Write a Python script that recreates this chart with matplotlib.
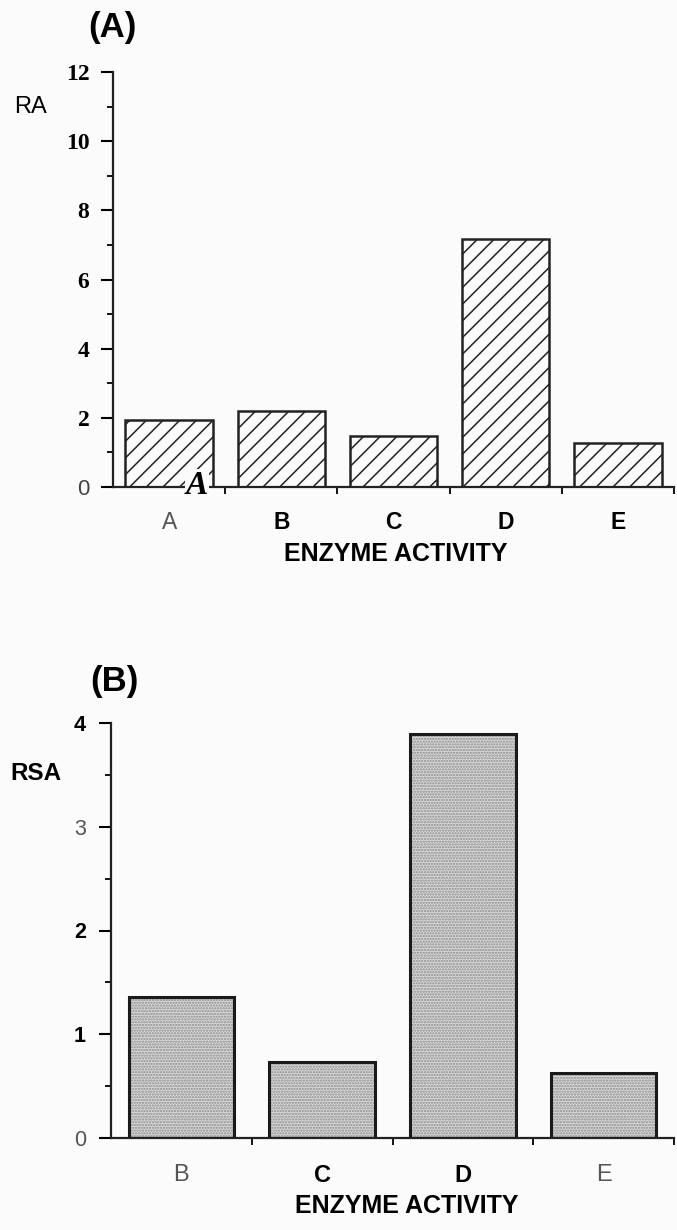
import matplotlib
matplotlib.use("Agg")
import matplotlib.pyplot as plt
import numpy as np

# ---- data ----
cats_a = ["A", "B", "C", "D", "E"]
ra_values = [1.93, 2.20, 1.47, 7.18, 1.26]
cats_b = ["B", "C", "D", "E"]
rsa_values = [1.36, 0.73, 3.89, 0.63]
yticks_a = [0, 2, 4, 6, 8, 10, 12]
yticks_b = [0, 1, 2, 3, 4]

SANS = "Liberation Sans"
SERIF = "Liberation Serif"
BG = "#fbfbfb"
plt.rcParams["hatch.linewidth"] = 1.1

W, H = 677, 1230
fig = plt.figure(figsize=(W / 100, H / 100), dpi=100, facecolor=BG)


def style_axes(ax):
    ax.set_facecolor(BG)
    for s in ("top", "right"):
        ax.spines[s].set_visible(False)
    for s in ("left", "bottom"):
        ax.spines[s].set_linewidth(1.6)
        ax.spines[s].set_color("#222222")


# ---------------- Panel A ----------------
axA = fig.add_axes([113 / W, 1 - 487 / H, (674 - 113) / W, (487 - 72) / H])
style_axes(axA)
xa = np.arange(len(cats_a))
axA.bar(xa, ra_values, width=0.78, facecolor="none", edgecolor="#222222",
        linewidth=1.8, hatch="//", zorder=2)
axA.set_xlim(-0.5, len(cats_a) - 0.5)
axA.set_ylim(0, 12)
axA.set_yticks(yticks_a)
axA.set_yticks(np.arange(1, 12, 2), minor=True)
axA.tick_params(axis="y", which="major", direction="out", length=9, width=1.5, pad=8)
axA.tick_params(axis="y", which="minor", direction="out", length=4.5, width=1.3)
axA.set_xticks(xa, cats_a)
axA.set_xticks(np.arange(0.5, len(cats_a), 1), minor=True)
axA.tick_params(axis="x", which="major", length=0, pad=17)
axA.tick_params(axis="x", which="minor", direction="out", length=5, width=1.3)

for lab in axA.get_yticklabels():
    if lab.get_text() == "0":
        lab.set_fontfamily(SANS)
        lab.set_fontsize(16)
        lab.set_color("#444444")
    else:
        lab.set_fontfamily(SERIF)
        lab.set_fontweight("bold")
        lab.set_fontsize(17)
for lab in axA.get_xticklabels():
    lab.set_fontfamily(SANS)
    lab.set_fontsize(16.5)
    if lab.get_text() == "A":
        lab.set_color("#555555")
    else:
        lab.set_fontweight("bold")

axA.text(0.25, 0.05, "A", family=SERIF, style="italic", weight="bold",
         fontsize=24, ha="center", va="center", zorder=5,
         bbox=dict(facecolor=BG, edgecolor="none", pad=0.5))

fig.text(112 / W, 1 - 27 / H, "(A)", family=SANS, weight="bold", fontsize=25,
         ha="center", va="center")
fig.text(30 / W, 1 - 107 / H, "RA", family=SANS, fontsize=17,
         ha="center", va="center")
fig.text(396 / W, 1 - 554 / H, "ENZYME ACTIVITY", family=SANS, weight="bold",
         fontsize=18, ha="center", va="center")

# ---------------- Panel B ----------------
axB = fig.add_axes([111 / W, 1 - 1138 / H, (674 - 111) / W, (1138 - 723) / H])
style_axes(axB)
xb = np.arange(len(cats_b))
axB.bar(xb, rsa_values, width=0.75, facecolor="#d9d9d9", edgecolor="#8a8a8a",
        linewidth=0, hatch="......", zorder=1)
axB.bar(xb, rsa_values, width=0.75, facecolor="none", edgecolor="#1a1a1a",
        linewidth=2.2, zorder=2)
axB.set_xlim(-0.5, len(cats_b) - 0.5)
axB.set_ylim(0, 4)
axB.set_yticks(yticks_b)
axB.set_yticks(np.arange(0.5, 4, 1), minor=True)
axB.tick_params(axis="y", which="major", direction="out", length=9, width=1.5, pad=9)
axB.tick_params(axis="y", which="minor", direction="out", length=4.5, width=1.3)
axB.set_xticks(xb, cats_b)
axB.set_xticks(np.arange(0.5, len(cats_b), 1), minor=True)
axB.tick_params(axis="x", which="major", length=0, pad=19)
axB.tick_params(axis="x", which="minor", direction="out", length=5, width=1.3)

for lab in axB.get_yticklabels():
    lab.set_fontfamily(SANS)
    lab.set_fontsize(15.5)
    if lab.get_text() in ("0", "3"):
        lab.set_color("#555555")
    else:
        lab.set_fontweight("bold")
for lab in axB.get_xticklabels():
    lab.set_fontfamily(SANS)
    lab.set_fontsize(17)
    if lab.get_text() in ("B", "E"):
        lab.set_color("#555555")
    else:
        lab.set_fontweight("bold")

fig.text(114 / W, 1 - 682 / H, "(B)", family=SANS, weight="bold", fontsize=25,
         ha="center", va="center")
fig.text(36 / W, 1 - 773 / H, "RSA", family=SANS, weight="bold", fontsize=17.5,
         ha="center", va="center")
fig.text(407 / W, 1 - 1206 / H, "ENZYME ACTIVITY", family=SANS, weight="bold",
         fontsize=18, ha="center", va="center")

fig.savefig("out.png", dpi=100, facecolor=BG)
